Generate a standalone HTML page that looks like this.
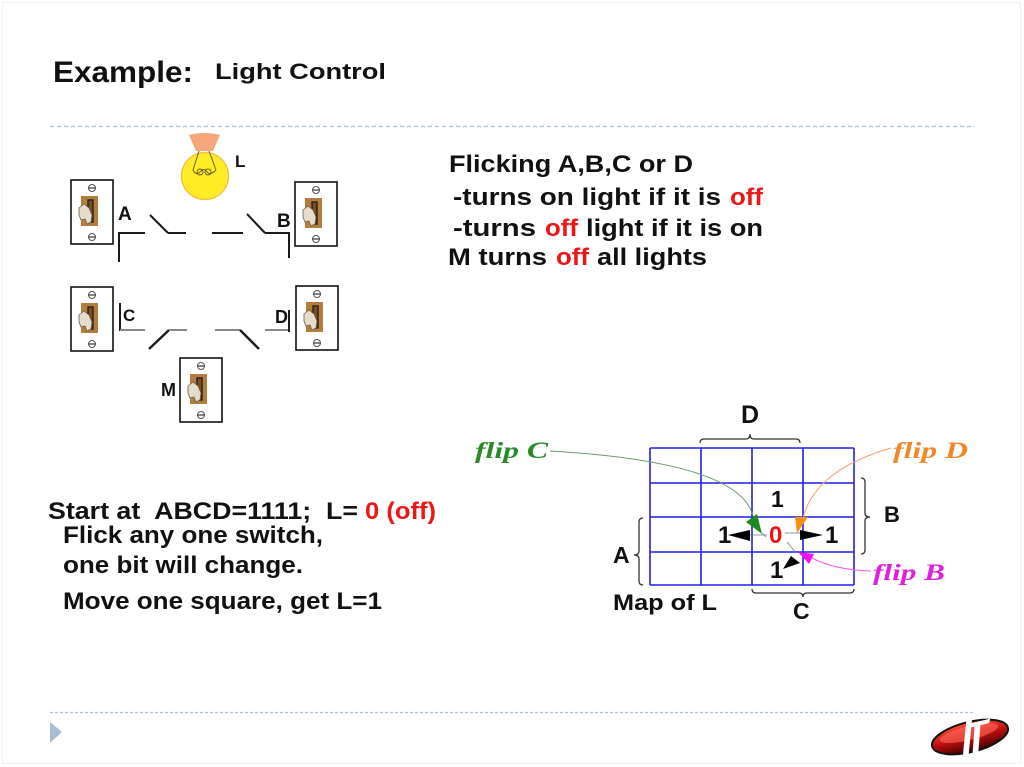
<!DOCTYPE html>
<html>
<head>
<meta charset="utf-8">
<style>
  html,body{margin:0;padding:0;background:#fff;}
  svg{display:block;}
  .b{font-family:"Liberation Sans",Arial,sans-serif;font-weight:bold;fill:#111;}
  .r{fill:#f01515;}
  .fl{font-family:"Liberation Serif","Times New Roman",serif;font-weight:bold;font-style:italic;}
</style>
</head>
<body>
<svg width="1024" height="767" viewBox="0 0 1024 767" xmlns="http://www.w3.org/2000/svg">
  <defs>
    <g id="sw">
      <rect x="0" y="0" width="42" height="64" fill="#fff" stroke="#111" stroke-width="1.6"/>
      <circle cx="21" cy="8" r="3.5" fill="#fff" stroke="#555" stroke-width="1"/>
      <line x1="17.5" y1="8" x2="24.5" y2="8" stroke="#333" stroke-width="1.2"/>
      <circle cx="21" cy="57" r="3.5" fill="#fff" stroke="#555" stroke-width="1"/>
      <line x1="17.5" y1="57" x2="24.5" y2="57" stroke="#333" stroke-width="1.2"/>
      <rect x="10" y="16" width="17" height="30" fill="#b67c3c"/>
      <rect x="17" y="20" width="5" height="22" fill="#7a4f20" stroke="#222" stroke-width="1.4"/>
      <polygon points="8,28 13,24 18,28 21,35 20,42 16,44 14,39 10,40 8,35" fill="#e6dccb" stroke="#6b5a45" stroke-width="0.8"/>
    </g>
    <linearGradient id="lg" x1="0" y1="0" x2="0" y2="1">
      <stop offset="0" stop-color="#ff4a3a"/>
      <stop offset="0.5" stop-color="#c01010"/>
      <stop offset="1" stop-color="#400000"/>
    </linearGradient>
  </defs>

  <!-- faint slide border -->
  <rect x="2.5" y="2.5" width="1018" height="761" fill="none" stroke="#f0f0f0" stroke-width="1"/>

  <!-- Title -->
  <text class="b" x="53" y="82" font-size="30" textLength="140" lengthAdjust="spacingAndGlyphs">Example:</text>
  <text class="b" x="215" y="79" font-size="22" textLength="171" lengthAdjust="spacingAndGlyphs">Light Control</text>

  <!-- dashed separators -->
  <line x1="50" y1="126.5" x2="975" y2="126.5" stroke="#adc0d2" stroke-width="1.2" stroke-dasharray="4 3"/>
  <line x1="50" y1="712.5" x2="975" y2="712.5" stroke="#adc0d2" stroke-width="1.2" stroke-dasharray="3 2"/>
  <polygon points="50,722 62,732 50,743" fill="#a8bdd2"/>

  <!-- Bulb -->
  <circle cx="205" cy="176" r="23.5" fill="#ffec24" stroke="#f2c445" stroke-width="1.5"/>
  <path d="M189,135 Q204,131 220,135 L213,151 L196,151 Z" fill="#f5a67a"/>
  <g fill="none" stroke="#6a6020" stroke-width="1">
    <path d="M199,151 L193,170"/>
    <path d="M209,151 L216,170"/>
    <path d="M193,170 Q196,176 200,172 Q204,167 207,172 Q210,176 216,170"/>
    <circle cx="200" cy="172" r="3"/>
    <circle cx="208" cy="172" r="3"/>
  </g>
  <text class="b" x="235" y="167" font-size="17">L</text>

  <!-- Switches -->
  <use href="#sw" x="71" y="180"/>
  <use href="#sw" x="295" y="182"/>
  <use href="#sw" x="71" y="287"/>
  <use href="#sw" x="296" y="286"/>
  <use href="#sw" x="180" y="358"/>

  <!-- switch labels -->
  <text class="b" x="118" y="220" font-size="19">A</text>
  <text class="b" x="277" y="227" font-size="19">B</text>
  <text class="b" x="123" y="321" font-size="17">C</text>
  <text class="b" x="275" y="323" font-size="18">D</text>
  <text class="b" x="161" y="396" font-size="18">M</text>

  <!-- A/B wiring -->
  <g stroke="#1a1a1a" stroke-width="2" fill="none">
    <path d="M119,262 L119,233 L145,233"/>
    <line x1="150" y1="215" x2="168" y2="233"/>
    <line x1="168" y1="233" x2="186" y2="233"/>
    <line x1="212" y1="233" x2="243" y2="233"/>
    <line x1="247" y1="214" x2="265" y2="233"/>
    <path d="M265,233 L289,233 L289,258"/>
  </g>

  <!-- C/D wiring -->
  <g stroke-width="2" fill="none">
    <line x1="120" y1="303" x2="120" y2="331" stroke="#1a1a1a"/>
    <line x1="120" y1="330" x2="145" y2="330" stroke="#888"/>
    <line x1="149" y1="349" x2="169" y2="330" stroke="#1a1a1a" stroke-width="2.4"/>
    <line x1="169" y1="330" x2="187" y2="330" stroke="#888"/>
    <line x1="215" y1="330" x2="240" y2="330" stroke="#888"/>
    <line x1="240" y1="330" x2="259" y2="349" stroke="#1a1a1a" stroke-width="2.4"/>
    <line x1="265" y1="330" x2="289" y2="330" stroke="#888"/>
    <line x1="289" y1="310" x2="289" y2="332" stroke="#1a1a1a"/>
  </g>

  <!-- Right text block -->
  <text class="b" x="449" y="172" font-size="24" textLength="244" lengthAdjust="spacingAndGlyphs">Flicking A,B,C or D</text>
  <text class="b" x="453" y="205" font-size="24" textLength="268" lengthAdjust="spacingAndGlyphs">-turns on light if it is</text>
  <text class="b r" x="730" y="205" font-size="24" textLength="33" lengthAdjust="spacingAndGlyphs">off</text>
  <text class="b" x="453" y="236" font-size="24" textLength="83" lengthAdjust="spacingAndGlyphs">-turns</text>
  <text class="b r" x="545" y="236" font-size="24" textLength="33" lengthAdjust="spacingAndGlyphs">off</text>
  <text class="b" x="586" y="236" font-size="24" textLength="177" lengthAdjust="spacingAndGlyphs">light if it is on</text>
  <text class="b" x="448" y="265" font-size="24" textLength="99" lengthAdjust="spacingAndGlyphs">M turns</text>
  <text class="b r" x="556" y="265" font-size="24" textLength="33" lengthAdjust="spacingAndGlyphs">off</text>
  <text class="b" x="597" y="265" font-size="24" textLength="110" lengthAdjust="spacingAndGlyphs">all lights</text>

  <!-- Bottom-left text block -->
  <text class="b" x="48" y="519" font-size="24" textLength="310" lengthAdjust="spacingAndGlyphs" xml:space="preserve">Start at  ABCD=1111;  L=</text>
  <text class="b r" x="365" y="519" font-size="24" textLength="71" lengthAdjust="spacingAndGlyphs">0 (off)</text>
  <text class="b" x="63" y="543" font-size="24" textLength="260" lengthAdjust="spacingAndGlyphs">Flick any one switch,</text>
  <text class="b" x="63" y="573" font-size="24" textLength="240" lengthAdjust="spacingAndGlyphs">one bit will change.</text>
  <text class="b" x="63" y="609" font-size="24" textLength="319" lengthAdjust="spacingAndGlyphs">Move one square, get L=1</text>

  <!-- K-map grid -->
  <g stroke="#1f1fe8" stroke-width="1.6">
    <line x1="650" y1="448" x2="650" y2="585"/>
    <line x1="701" y1="448" x2="701" y2="585"/>
    <line x1="752" y1="448" x2="752" y2="585"/>
    <line x1="803" y1="448" x2="803" y2="585"/>
    <line x1="854" y1="448" x2="854" y2="585"/>
    <line x1="650" y1="448" x2="854" y2="448"/>
    <line x1="650" y1="483" x2="854" y2="483"/>
    <line x1="650" y1="517" x2="854" y2="517"/>
    <line x1="650" y1="552" x2="854" y2="552"/>
    <line x1="650" y1="585" x2="854" y2="585"/>
  </g>

  <!-- braces -->
  <g stroke="#333" stroke-width="1.3" fill="none">
    <path d="M700,443 Q700,439 704,439 L746,439 Q750,439 750,434 Q750,439 754,439 L796,439 Q800,439 800,443"/>
    <path d="M861,478 Q865,478 865,482 L865,513 Q865,517 870,517 Q865,517 865,521 L865,550 Q865,554 861,554"/>
    <path d="M643,518 Q639,518 639,522 L639,551 Q639,555 634,555 Q639,555 639,559 L639,581 Q639,585 643,585"/>
    <path d="M752,589 Q752,593 756,593 L799,593 Q803,593 803,597 Q803,593 807,593 L850,593 Q854,593 854,589"/>
  </g>
  <text class="b" x="741" y="423" font-size="25">D</text>
  <text class="b" x="884" y="522" font-size="22">B</text>
  <text class="b" x="613" y="563" font-size="23">A</text>
  <text class="b" x="793" y="619" font-size="23">C</text>
  <text class="b" x="613" y="610" font-size="22" textLength="104" lengthAdjust="spacingAndGlyphs">Map of L</text>

  <!-- cell values -->
  <text class="b" x="771" y="507" font-size="23">1</text>
  <text class="b" x="718" y="543" font-size="24">1</text>
  <text class="b r" x="769" y="543" font-size="24">0</text>
  <text class="b" x="825" y="543" font-size="24">1</text>
  <text class="b" x="770" y="578" font-size="24">1</text>

  <!-- black arrows -->
  <g fill="#000">
    <polygon points="728,535 750,530 750,541"/>
    <polygon points="800,530 800,540 823,535"/>
    <polygon points="783,569 791,556 800,563"/>
  </g>
  <g stroke="#777" stroke-width="0.8" fill="none">
    <line x1="750" y1="535" x2="767" y2="535"/>
    <line x1="785" y1="533" x2="800" y2="533"/>
    <line x1="787" y1="542" x2="796" y2="553"/>
  </g>

  <!-- flip C -->
  <text class="fl" x="475" y="458" font-size="23" fill="#2a8a2a" textLength="73" lengthAdjust="spacingAndGlyphs">flip C</text>
  <path d="M550,451 Q740,462 753,516" fill="none" stroke="#6a9c6a" stroke-width="1"/>
  <polygon points="746,522 757,514 762,534" fill="#1f8a1f"/>
  <line x1="762" y1="533" x2="766" y2="537" stroke="#777" stroke-width="0.8"/>

  <!-- flip D -->
  <text class="fl" x="893" y="458" font-size="23" fill="#f08828" textLength="75" lengthAdjust="spacingAndGlyphs">flip D</text>
  <path d="M891,448 Q815,470 803,518" fill="none" stroke="#f4a474" stroke-width="1"/>
  <polygon points="795,517 808,517 797,533" fill="#f8900e"/>

  <!-- flip B -->
  <text class="fl" x="873" y="580" font-size="23" fill="#e020e0" textLength="72" lengthAdjust="spacingAndGlyphs">flip B</text>
  <path d="M871,571 Q835,570 812,558" fill="none" stroke="#f060f0" stroke-width="1"/>
  <polygon points="798,552 814,554 809,564" fill="#f010f0"/>

  <!-- logo -->
  <g transform="translate(970,737) rotate(-14)">
    <ellipse cx="0" cy="0" rx="39" ry="15" fill="url(#lg)" stroke="#111" stroke-width="2"/>
    <ellipse cx="0" cy="-4" rx="30" ry="7" fill="#ff6a5a" opacity="0.6"/>
    <polygon points="-12,18 -6,18 6,-16 0,-16" fill="#fff"/>
    <polygon points="-2,18 4,18 14,-12 8,-12" fill="#fff"/>
    <polygon points="2,-13 24,-13 22,-9 1,-9" fill="#fff"/>
  </g>
</svg>
</body>
</html>
